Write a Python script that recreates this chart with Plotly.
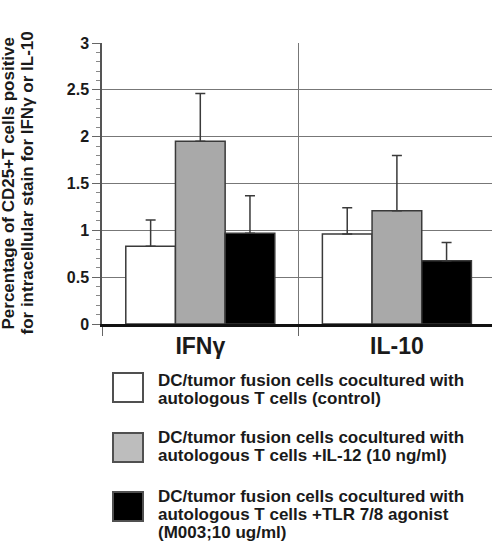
import plotly.graph_objects as go

categories = ["IFNγ", "IL-10"]
series_names = [
    ["DC/tumor fusion cells cocultured with", "autologous T cells (control)"],
    ["DC/tumor fusion cells cocultured with", "autologous T cells +IL-12 (10 ng/ml)"],
    ["DC/tumor fusion cells cocultured with", "autologous T cells +TLR 7/8 agonist", "(M003;10 ug/ml)"],
]
control_vals = [0.83, 0.96]
control_err = [0.28, 0.28]
il12_vals = [1.95, 1.21]
il12_err = [0.51, 0.59]
tlr_vals = [0.97, 0.675]
tlr_err = [0.40, 0.195]
y_ticks = [0, 0.5, 1, 1.5, 2, 2.5, 3]
y_title_lines = ["Percentage of CD25+T cells positive", "for intracellular stain for IFNγ or IL-10"]

W, H = 492, 543
L, T, R, B = 102, 43, 0, 219
PW, PH = W - L - R, H - T - B

FONT = "Liberation Sans, Arial, Helvetica, sans-serif"
fills = ["#ffffff", "#a9a9a9", "#000000"]
legend_fills = ["#ffffff", "#bdbdbd", "#000000"]
vals = [control_vals, il12_vals, tlr_vals]
errs = [control_err, il12_err, tlr_err]

fig = go.Figure()
for name, v, e, c in zip(series_names, vals, errs, fills):
    fig.add_trace(go.Bar(
        x=categories, y=v, name=" ".join(name), marker=dict(color=c, line=dict(color="#3a3a3a", width=1.5)),
        error_y=dict(type="data", array=e, symmetric=False, arrayminus=[0] * len(e),
                     color="#3a3a3a", thickness=1.5, width=5),
        showlegend=False,
    ))

def px_x(p):
    return (p - L) / PW

def px_y(p):
    return (H - B - p) / PH

shapes = []
annotations = []
box_tops = [373, 433, 492]
line_centers = [[380.7, 398.5], [437.5, 455.7], [496.7, 514.7, 532.7]]
for i, (lines, c) in enumerate(zip(series_names, legend_fills)):
    shapes.append(dict(type="rect", xref="paper", yref="paper",
                       x0=px_x(113), x1=px_x(143), y0=px_y(box_tops[i]), y1=px_y(box_tops[i] + 29),
                       fillcolor=c, line=dict(color="#505050", width=2)))
    for line, yc in zip(lines, line_centers[i]):
        annotations.append(dict(xref="paper", yref="paper", x=px_x(156), y=px_y(yc),
                                xanchor="left", yanchor="middle", align="left", showarrow=False,
                                text="<b>" + line + "</b>",
                                font=dict(family=FONT, size=17, color="#1a1a1a")))

for line, xc in zip(y_title_lines, [8, 27]):
    annotations.append(dict(xref="paper", yref="paper", x=px_x(xc), y=0.5,
                            xanchor="center", yanchor="middle", textangle=-90, showarrow=False,
                            text="<b>" + line + "</b>",
                            font=dict(family=FONT, size=17, color="#1a1a1a")))

fig.update_layout(
    width=W, height=H,
    margin=dict(l=L, r=R, t=T, b=B),
    paper_bgcolor="white", plot_bgcolor="white",
    barmode="group", bargap=0.242, bargroupgap=0,
    shapes=shapes, annotations=annotations,
    font=dict(family=FONT, color="#1a1a1a"),
)
fig.update_xaxes(
    range=[-0.5, -0.5 + PW / 196.6], tickson="boundaries",
    showgrid=True, gridcolor="#777777", gridwidth=1,
    ticks="outside", ticklen=9, tickcolor="#666666",
    showline=True, linecolor="#111111", linewidth=2.5,
    tickfont=dict(family=FONT, size=23, color="#1a1a1a", weight="bold"),
)
fig.update_yaxes(
    range=[0, 3], tickvals=y_ticks, ticktext=[f"{t:g}" for t in y_ticks],
    showgrid=True, gridcolor="#777777", gridwidth=1,
    ticks="outside", ticklen=8, tickcolor="#666666",
    minor=dict(dtick=0.1, ticks="outside", ticklen=4, tickcolor="#888888", showgrid=False),
    showline=True, linecolor="#555555", linewidth=1.5,
    zeroline=False,
    tickfont=dict(family=FONT, size=16, color="#1a1a1a", weight="bold"),
)

fig.write_html("out.html")
